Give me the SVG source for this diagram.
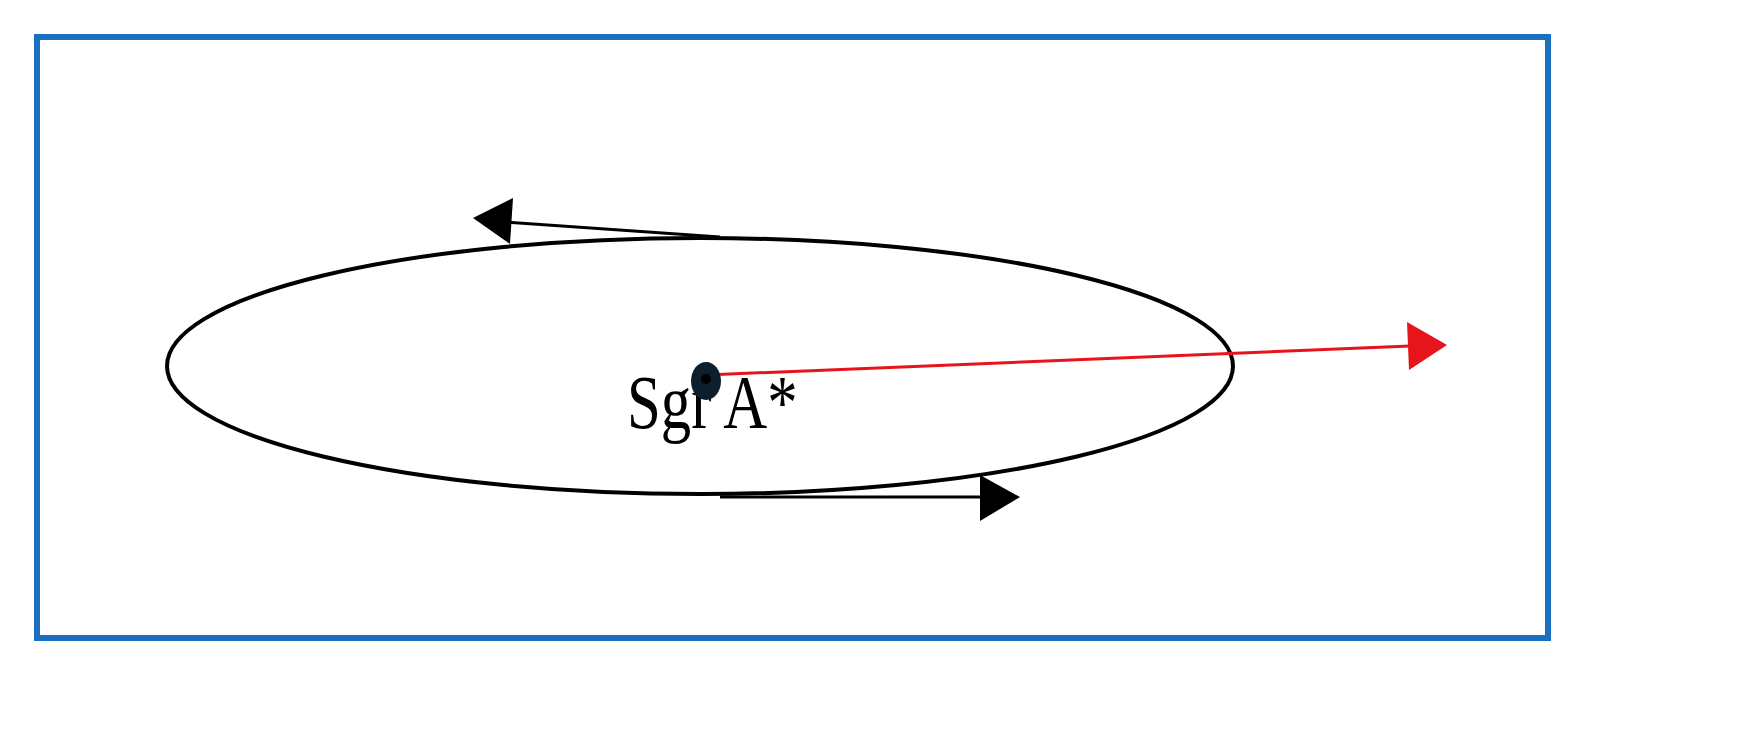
<svg xmlns="http://www.w3.org/2000/svg" width="1753" height="744" viewBox="0 0 1753 744">
<style>.k{stroke:#000;fill:none}</style>
<rect x="0" y="0" width="1753" height="744" fill="#fff"/>
<rect x="37" y="37" width="1511" height="601" fill="none" stroke="#1a6fc0" stroke-width="6"/>
<g id="orbit"><ellipse cx="700" cy="366" rx="533" ry="128" class="k" stroke-width="4"/></g>
<g id="connectors">
<line x1="720" y1="237" x2="505" y2="222" stroke="#000" stroke-width="3"/>
<path d="M473,218L513,198L510,244z" fill="#000"/>
<line x1="720" y1="497" x2="985" y2="497" stroke="#000" stroke-width="3"/>
<path d="M1020,497L980,475L980,521z" fill="#000"/>
<line x1="706" y1="375" x2="1410" y2="346" stroke="#e8141c" stroke-width="3"/>
<path d="M1447,345L1407,322L1409,370z" fill="#e8141c"/>
</g>
<g id="sgr">
<text transform="translate(627,428) scale(0.8,1)" font-family="Liberation Serif, serif" font-size="76" fill="#000">Sgr A*</text>
<ellipse cx="706" cy="381" rx="15" ry="19" fill="#0d1f2d"/>
<circle cx="706" cy="379" r="5" fill="#000"/>
</g>
</svg>
